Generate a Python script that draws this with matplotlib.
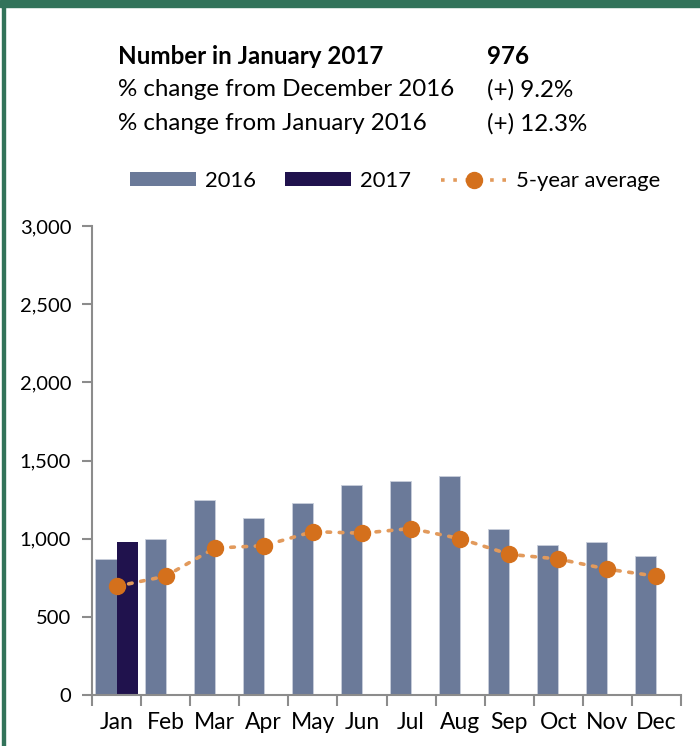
import numpy as np
import matplotlib.pyplot as plt
from matplotlib.patches import Patch
from matplotlib.lines import Line2D
from matplotlib.ticker import FuncFormatter, FixedLocator

months = ['Jan', 'Feb', 'Mar', 'Apr', 'May', 'Jun', 'Jul', 'Aug', 'Sep', 'Oct', 'Nov', 'Dec']
vals_2016 = [870, 1000, 1250, 1135, 1230, 1345, 1370, 1400, 1065, 960, 980, 890]
vals_2017 = [976]
avg_5yr = [695, 760, 940, 955, 1045, 1035, 1065, 1000, 900, 870, 805, 760]

header_labels = ['Number in January 2017', '% change from December 2016', '% change from January 2016']
header_values = ['976', '(+) 9.2%', '(+) 12.3%']

plt.rcParams['font.family'] = ['Lato', 'DejaVu Sans']

W, H = 700, 746
fig = plt.figure(figsize=(W / 100, H / 100), dpi=100)

c16 = '#6B7A99'
c17 = '#20124D'
corange = '#D4701C'
cline = '#E29A5C'
green = '#32735A'
axcol = '#8C8C8C'

ax = fig.add_axes([92 / W, 1 - 695 / H, 589 / W, 469 / H])
x = np.arange(len(months))
bw = 0.43
ax.bar(x - bw / 2, vals_2016, width=bw, color=c16, edgecolor='#c9cfdb', linewidth=0.6, label='2016')
ax.bar(x[:len(vals_2017)] + bw / 2, vals_2017, width=bw, color=c17, label='2017')
ax.plot(x, avg_5yr, linestyle=(0, (1, 2.4)), linewidth=2.6, color=cline,
        marker='o', markersize=11.5, markerfacecolor=corange, markeredgecolor=corange,
        dash_capstyle='round', label='5-year average')

ax.set_xlim(-0.5, 11.5)
ax.set_ylim(0, 3000)
ax.set_yticks(range(0, 3001, 500))
ax.yaxis.set_major_formatter(FuncFormatter(lambda v, p: f'{int(v):,}'))
ax.set_xticks(x)
ax.set_xticklabels(months)
ax.xaxis.set_minor_locator(FixedLocator(np.arange(-0.5, 12, 1)))
ax.tick_params(axis='x', which='major', length=0, pad=12, labelsize=16.5)
ax.tick_params(axis='x', which='minor', length=8, width=1.5, color=axcol, direction='out')
ax.tick_params(axis='y', length=7, width=1.5, color=axcol, pad=8, labelsize=14.5)
for s in ['top', 'right']:
    ax.spines[s].set_visible(False)
for s in ['left', 'bottom']:
    ax.spines[s].set_color(axcol)
    ax.spines[s].set_linewidth(1.5)

# header text block
ys = [57, 90, 124]
for i, (lab, val) in enumerate(zip(header_labels, header_values)):
    w = 'bold' if i == 0 else 'normal'
    fig.text(118 / W, 1 - ys[i] / H, lab, fontsize=17.4, fontweight=w, va='center', ha='left')
    fig.text(487 / W, 1 - ys[i] / H, val, fontsize=17.4, fontweight=w, va='center', ha='left')

handles = [Patch(facecolor=c16), Patch(facecolor=c17),
           Line2D([0], [0], linestyle=(0, (1, 2.4)), linewidth=2.6, color=cline,
                  marker='o', markersize=11.5, markerfacecolor=corange, markeredgecolor=corange)]
fig.legend(handles, ['2016', '2017', '5-year average'], loc='center', ncol=3,
           bbox_to_anchor=(395 / W, 1 - 181 / H), frameon=False, fontsize=15.8,
           handlelength=3.0, handleheight=0.6, columnspacing=1.35, handletextpad=0.42)

# green frame
fig.patches.append(plt.Rectangle((0, 1 - 7 / H), 1, 7 / H, transform=fig.transFigure,
                                 color=green, zorder=10))
fig.patches.append(plt.Rectangle((2 / W, 0), 2.5 / W, 1, transform=fig.transFigure,
                                 color=green, zorder=10))

fig.savefig('out.png', dpi=100)
